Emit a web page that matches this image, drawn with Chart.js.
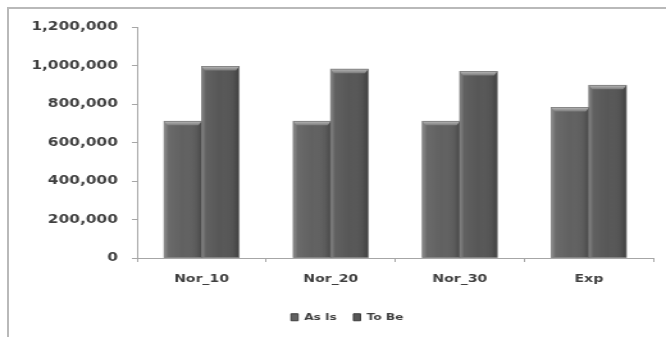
<!DOCTYPE html>
<html>
<head>
<meta charset="utf-8">
<script src="https://cdn.jsdelivr.net/npm/chart.js@4/dist/chart.umd.min.js"></script>
<style>
  html, body { margin: 0; padding: 0; background: #ffffff; }
  #wrap { position: relative; width: 666px; height: 337px; overflow: hidden; background: #ffffff; }
  #frame {
    position: absolute; left: 7px; top: 7px; right: -20px; bottom: -20px;
    border: 2px solid #b9b9b9;
  }
  #c { position: absolute; left: 0; top: 0; transform-origin: 0 0; filter: blur(0.35px); }
</style>
</head>
<body>
<div id="wrap">
  <div id="frame"></div>
  <canvas id="c" width="520" height="337"></canvas>
</div>
<script>
// Categories and series
const categories = ['Nor_10', 'Nor_20', 'Nor_30', 'Exp'];
const asIsValues = [710000, 710000, 710000, 782000];
const toBeValues = [995000, 981000, 969000, 897000];
const yTickValues = [0, 200000, 400000, 600000, 800000, 1000000, 1200000];
const seriesNames = ['As Is', 'To Be'];

// The canvas is drawn narrower and widened with CSS, giving the broad lettering
const canvas = document.getElementById('c');
const stretch = 666 / canvas.width;
canvas.style.transform = 'scaleX(' + stretch + ')';

const textColor = '#3f3f3f';
const axisColor = '#a6a6a6';
const fontFamily = 'DejaVu Sans';
const legendShift = 32;

// Shading for the bars: side highlights and a bevelled cap on top
const bevelPlugin = {
  id: 'bevel',
  afterDatasetDraw(chart, args) {
    const ctx = chart.ctx;
    const meta = args.meta;
    meta.data.forEach((bar) => {
      const p = bar.getProps(['x', 'y', 'base', 'width'], true);
      const left = p.x - p.width / 2;
      const right = p.x + p.width / 2;
      const top = p.y;
      const bottom = p.base;
      ctx.save();
      // horizontal shading across the bar
      const g = ctx.createLinearGradient(left, 0, right, 0);
      g.addColorStop(0, 'rgba(255,255,255,0.28)');
      g.addColorStop(0.12, 'rgba(255,255,255,0.06)');
      g.addColorStop(0.5, 'rgba(255,255,255,0.0)');
      g.addColorStop(0.85, 'rgba(0,0,0,0.06)');
      g.addColorStop(1, 'rgba(0,0,0,0.25)');
      ctx.fillStyle = g;
      ctx.fillRect(left, top, right - left, bottom - top);
      // bevelled cap
      const capH = 4;
      const inset = 2.4;
      const cg = ctx.createLinearGradient(0, top, 0, top + capH);
      cg.addColorStop(0, '#b8b8b8');
      cg.addColorStop(1, '#7c7c7c');
      ctx.fillStyle = cg;
      ctx.beginPath();
      ctx.moveTo(left, top);
      ctx.lineTo(right, top);
      ctx.lineTo(right - inset, top + capH);
      ctx.lineTo(left + inset, top + capH);
      ctx.closePath();
      ctx.fill();
      // outline
      ctx.strokeStyle = 'rgba(120,120,120,0.9)';
      ctx.lineWidth = 0.8;
      ctx.strokeRect(left, top, right - left, bottom - top);
      ctx.restore();
    });
  }
};

// Narrow the legend box from the left so its items sit under the frame's middle
const legendOffsetPlugin = {
  id: 'legendOffset',
  beforeDraw(chart) {
    const lg = chart.legend;
    if (lg && !lg.$shifted) {
      lg.left += legendShift;
      lg.$shifted = true;
    }
  },
  afterLayout(chart) {
    if (chart.legend) chart.legend.$shifted = false;
  }
};

new Chart(canvas, {
  type: 'bar',
  data: {
    labels: categories,
    datasets: [
      { label: seriesNames[0], data: asIsValues, backgroundColor: '#616161', borderWidth: 0 },
      { label: seriesNames[1], data: toBeValues, backgroundColor: '#575757', borderWidth: 0 }
    ]
  },
  options: {
    responsive: false,
    animation: false,
    devicePixelRatio: 1,
    layout: { padding: { top: 27, right: 9.8, left: 0, bottom: 5 } },
    datasets: { bar: { categoryPercentage: 0.58, barPercentage: 1.0 } },
    plugins: {
      tooltip: { enabled: false },
      legend: {
        position: 'bottom',
        labels: {
          color: textColor,
          font: { family: fontFamily, size: 9.5, weight: 'bold' },
          boxWidth: 5.5,
          boxHeight: 7,
          padding: 13,
          generateLabels(chart) {
            return chart.data.datasets.map((ds, i) => ({
              text: ds.label,
              fillStyle: ds.backgroundColor,
              strokeStyle: '#3c3c3c',
              lineWidth: 1,
              fontColor: textColor,
              datasetIndex: i,
              hidden: false
            }));
          }
        }
      }
    },
    scales: {
      x: {
        grid: { display: true, drawOnChartArea: false, drawTicks: true, tickLength: 4, color: axisColor, offset: true },
        border: { display: true, color: axisColor, width: 1 },
        ticks: { color: textColor, font: { family: fontFamily, size: 11, weight: 'bold' }, padding: 11, maxRotation: 0 },
        afterFit(scale) { scale.height = 41.5; }
      },
      y: {
        min: 0,
        max: 1200000,
        grid: { display: true, drawOnChartArea: false, drawTicks: true, tickLength: 4, color: axisColor },
        border: { display: true, color: axisColor, width: 1 },
        afterBuildTicks(scale) { scale.ticks = yTickValues.map(v => ({ value: v })); },
        ticks: {
          color: textColor,
          font: { family: fontFamily, size: 12, weight: 'bold' },
          padding: 11,
          callback: (v) => Number(v).toLocaleString('en-US')
        },
        afterFit(scale) { scale.width = 107; }
      }
    }
  },
  plugins: [bevelPlugin, legendOffsetPlugin]
});
</script>
</body>
</html>
